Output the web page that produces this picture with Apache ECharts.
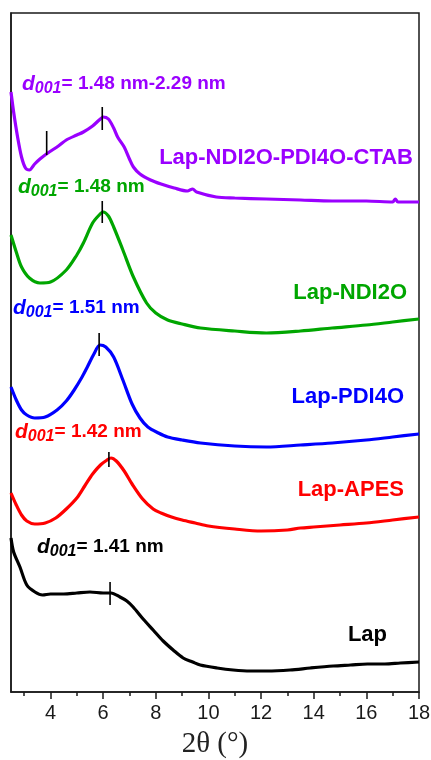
<!DOCTYPE html>
<html>
<head>
<meta charset="utf-8">
<script src="https://cdn.jsdelivr.net/npm/echarts@6/dist/echarts.min.js"></script>
<style>
  html, body { margin: 0; padding: 0; background: #fff; }
  #chart { width: 431px; height: 760px; }
</style>
</head>
<body>
<div id="chart"></div>
<script>
// XRD patterns (2θ in degrees, stacked intensity in arbitrary units)
const lap = [[2.5,154],[2.6,140],[2.84,125],[3.1,107],[3.41,100],[3.7,97],[4.0,98],[4.5,98],[5.0,99],[5.5,100],[6.0,99],[6.3,99],[6.64,95],[6.9,91],[7.14,85],[7.52,73],[7.9,62],[8.28,51],[8.66,42],[9.04,34],[9.4,30],[9.69,27],[10.33,24],[10.94,22],[11.59,21],[12.23,21],[13.1,22],[13.87,24],[14.74,26],[15.4,27],[16.04,28],[16.7,28],[17.29,29],[18.0,30]];
const lapApes = [[2.5,199],[2.7,187],[2.9,177],[3.1,171],[3.4,168],[3.8,169],[4.2,174],[4.6,183],[5.0,194],[5.3,206],[5.6,218],[5.9,227],[6.15,232],[6.3,234],[6.5,231],[6.8,221],[7.1,208],[7.5,193],[7.9,183],[8.2,179],[8.6,175],[9.0,172],[9.5,169],[10.0,166],[11.0,163],[12.0,161],[13.0,162],[13.5,164],[14.0,165],[15.0,167],[16.0,169],[17.0,172],[18.0,175]];
const lapPdi = [[2.5,305],[2.7,292],[2.9,282],[3.1,277],[3.4,274],[3.8,275],[4.25,282],[4.6,291],[4.9,302],[5.2,315],[5.4,325],[5.65,338],[5.88,347],[6.1,345],[6.4,335],[6.75,312],[7.1,288],[7.4,274],[7.7,265],[8.1,259],[8.45,255],[9.0,252],[9.7,249],[11.0,246],[12.2,245],[13.5,247],[14.7,249],[16.0,252],[17.0,255],[18.0,258]];
const lapNdi = [[2.5,457],[2.7,440],[2.9,425],[3.2,414],[3.6,409],[4.0,410],[4.6,422],[5.0,437],[5.25,449],[5.6,469],[5.85,477],[6.0,480],[6.2,476],[6.4,465],[6.75,442],[7.15,415],[7.65,389],[8.0,379],[8.45,372],[9.0,368],[9.7,364],[11.0,361],[12.2,359],[13.5,361],[14.7,364],[16.0,367],[17.0,370],[18.0,373]];
const lapNdiPdiCtab = [[2.5,600],[2.6,580],[2.75,555],[2.9,535],[3.05,524],[3.2,522],[3.4,528],[3.6,533],[3.9,539],[4.3,546],[4.6,552],[5.0,557],[5.25,560],[5.6,566],[5.85,572],[6.0,575],[6.2,573],[6.4,564],[6.55,555],[6.8,545],[7.0,533],[7.15,525],[7.4,518],[7.8,512],[8.2,508],[8.7,504],[9.2,501],[9.4,503],[9.55,500],[10.3,495],[11.0,494],[12.2,493],[13.5,492],[14.7,491],[16.0,491],[17.0,490],[17.1,493],[17.2,490],[18.0,490]];

const sampleNames = ['Lap', 'Lap-APES', 'Lap-PDI4O', 'Lap-NDI2O', 'Lap-NDI2O-PDI4O-CTAB'];
const sampleColors = ['#000000', '#ff0000', '#0000ff', '#00a600', '#9a00ff'];
const sampleData = [lap, lapApes, lapPdi, lapNdi, lapNdiPdiCtab];

// basal spacings (nm) written above each pattern
const dSpacing = ['1.41 nm', '1.42 nm', '1.51 nm', '1.48 nm', '1.48 nm-2.29 nm'];

// reflection marks: d (nm) and vertical extent in intensity units
const markD = [1.41, 1.42, 1.51, 1.48, 1.48, 2.29];
const markSpan = [[87,110],[225,240],[336,359],[469,491],[562,585],[537,561]];

const tickValues = [4, 6, 8, 10, 12, 14, 16, 18];
const minorTickValues = [3, 5, 7, 9, 11, 13, 15, 17];

// Bragg's law with Cu Kα
const LAMBDA = 0.15406;
const twoTheta = d => 2 * Math.asin(LAMBDA / (2 * d)) * 180 / Math.PI;

const FONT = '"Liberation Sans", Arial, sans-serif';

const series = sampleData.map((pts, i) => ({
  type: 'line',
  name: sampleNames[i],
  data: pts,
  smooth: 0.3,
  showSymbol: false,
  silent: true,
  lineStyle: { color: sampleColors[i], width: 3.2 },
  z: 2
}));

markD.forEach((d, i) => {
  const x = twoTheta(d);
  series.push({
    type: 'line',
    data: [[x, markSpan[i][0]], [x, markSpan[i][1]]],
    showSymbol: false,
    silent: true,
    lineStyle: { color: '#000', width: 1.6 },
    z: 3
  });
});

// annotation layout
const namePos = [[387, 635], [404, 490], [404, 397], [407, 293], [413, 158]];
const dPos = [[37, 547], [15, 432], [13, 308], [18, 187], [22, 84]];

const graphics = [];
sampleNames.forEach((n, i) => {
  graphics.push({
    type: 'text',
    x: namePos[i][0], y: namePos[i][1],
    silent: true,
    style: {
      text: n,
      fill: sampleColors[i],
      font: 'bold 22px ' + FONT,
      align: 'right',
      verticalAlign: 'middle'
    }
  });
});
dSpacing.forEach((t, i) => {
  const c = sampleColors[i];
  graphics.push({
    type: 'text',
    x: dPos[i][0], y: dPos[i][1],
    silent: true,
    style: {
      text: '{i|d}{s|001}{t|= ' + t + '}',
      fill: c,
      verticalAlign: 'middle',
      rich: {
        i: { fill: c, fontFamily: FONT, fontSize: 21, fontStyle: 'italic', fontWeight: 'bold', lineHeight: 22 },
        s: { fill: c, fontFamily: FONT, fontSize: 16, fontStyle: 'italic', fontWeight: 'bold', lineHeight: 22, padding: [9, 0, 0, 0] },
        t: { fill: c, fontFamily: FONT, fontSize: 19, fontWeight: 'bold', lineHeight: 22 }
      }
    }
  });
});

const chart = echarts.init(document.getElementById('chart'), null, { renderer: 'canvas' });
chart.setOption({
  animation: false,
  backgroundColor: '#ffffff',
  grid: {
    left: 11, right: 12, top: 13, bottom: 68,
    outerBoundsMode: 'none',
    containLabel: false,
    show: true, borderColor: '#1a1a1a', borderWidth: 1.5, backgroundColor: 'transparent'
  },
  xAxis: [
    {
      type: 'value', min: 2.5, max: 18,
      name: '2θ (°)',
      nameLocation: 'middle',
      nameGap: 38,
      nameTextStyle: { fontFamily: '"Liberation Serif", "Times New Roman", serif', fontSize: 29, color: '#222', verticalAlign: 'top' },
      axisLine: { show: true, lineStyle: { color: '#1a1a1a', width: 1.5 } },
      axisTick: { show: true, inside: false, length: 7, customValues: tickValues, lineStyle: { color: '#1a1a1a', width: 1.5 } },
      axisLabel: { show: true, customValues: tickValues, margin: 11, fontFamily: FONT, fontSize: 20, color: '#1a1a1a' },
      splitLine: { show: false }
    },
    {
      type: 'value', min: 2.5, max: 18, position: 'bottom',
      axisLine: { show: false },
      axisTick: { show: true, inside: false, length: 4, customValues: minorTickValues, lineStyle: { color: '#1a1a1a', width: 1.5 } },
      axisLabel: { show: false },
      splitLine: { show: false }
    }
  ],
  yAxis: {
    type: 'value', min: 0, max: 679,
    axisLine: { show: true, lineStyle: { color: '#1a1a1a', width: 1.5 } },
    axisTick: { show: false },
    axisLabel: { show: false },
    splitLine: { show: false }
  },
  series: series,
  graphic: graphics
});
</script>
</body>
</html>
